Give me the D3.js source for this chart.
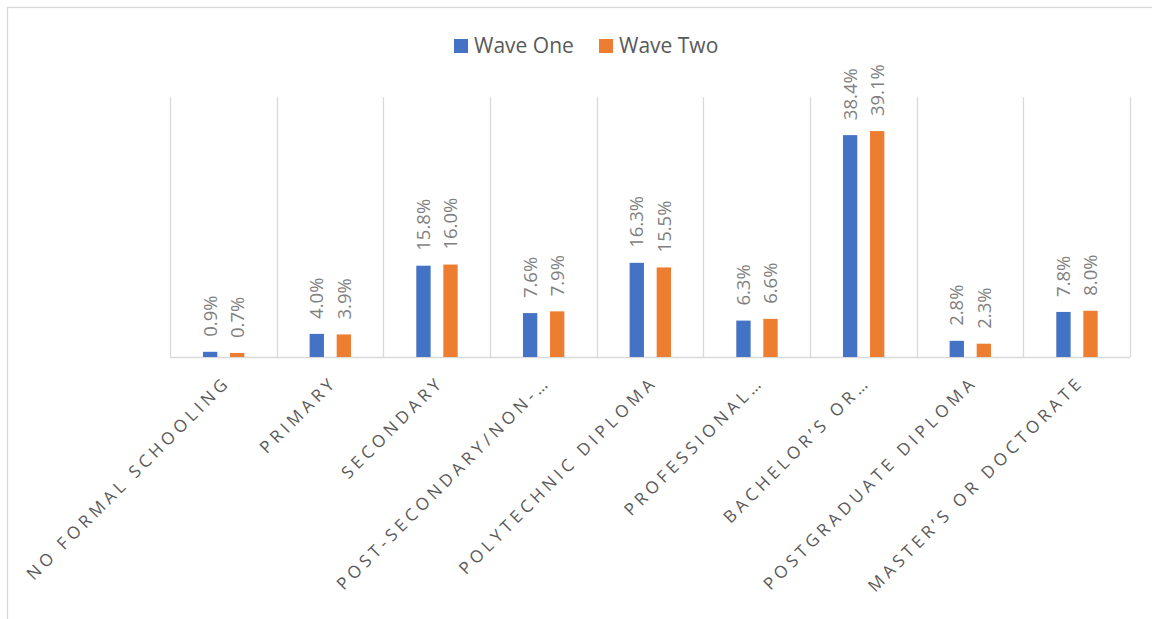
<!DOCTYPE html>
<html><head><meta charset="utf-8">
<script src="https://cdn.jsdelivr.net/npm/d3@7"></script>
<style>html,body{margin:0;padding:0;background:#fff;}svg{display:block;}</style>
</head><body>
<script>
const categories = ["NO FORMAL SCHOOLING","PRIMARY","SECONDARY","POST-SECONDARY/NON-…","POLYTECHNIC DIPLOMA","PROFESSIONAL…","BACHELOR’S OR…","POSTGRADUATE DIPLOMA","MASTER’S OR DOCTORATE"];
const seriesNames = ["Wave One","Wave Two"];
const waveOne = [0.9,4.0,15.8,7.6,16.3,6.3,38.4,2.8,7.8];
const waveTwo = [0.7,3.9,16.0,7.9,15.5,6.6,39.1,2.3,8.0];
const colors = ["#4472C4","#ED7D31"];

const W = 1152, H = 619;
const svg = d3.select("body").append("svg").attr("width", W).attr("height", H);
svg.append("rect").attr("x",7.5).attr("y",7.5).attr("width",1300).attr("height",800)
  .attr("fill","#fff").attr("stroke","#d9d9d9").attr("stroke-width",1.3);

const plot = {left:170, right:1130, top:97, bottom:357};
const x0 = d3.scaleBand().domain(categories).range([plot.left, plot.right]).padding(0);
const bw = x0.bandwidth();
const x1 = d3.scaleBand().domain(seriesNames).range([bw*0.309, bw*0.697]).paddingInner(0.47).paddingOuter(0);
const y = d3.scaleLinear().domain([0,45]).range([plot.bottom, plot.top]);

// gridlines
const bounds = categories.map(c => x0(c)).concat([plot.right]);
svg.append("g").selectAll("line").data(bounds).join("line")
  .attr("x1", d=>Math.round(d)+0.5).attr("x2", d=>Math.round(d)+0.5)
  .attr("y1", plot.top).attr("y2", plot.bottom)
  .attr("stroke","#d9d9d9").attr("stroke-width",1.3);
svg.append("line").attr("x1",plot.left).attr("x2",plot.right)
  .attr("y1",plot.bottom+0.5).attr("y2",plot.bottom+0.5)
  .attr("stroke","#d9d9d9").attr("stroke-width",1.3);

const data = [waveOne, waveTwo];
const g = svg.append("g");
seriesNames.forEach((s, si) => {
  const vals = data[si];
  g.append("g").selectAll("rect").data(categories).join("rect")
    .attr("x", (c)=>x0(c)+x1(s))
    .attr("width", x1.bandwidth())
    .attr("y", (c,i)=>y(vals[i]))
    .attr("height", (c,i)=>plot.bottom - y(vals[i]))
    .attr("fill", colors[si]);
  g.append("g").selectAll("text").data(categories).join("text")
    .attr("transform", (c,i)=>`translate(${x0(c)+x1(s)+x1.bandwidth()/2},${y(vals[i])-15}) rotate(-90)`)
    .attr("text-anchor","start")
    .attr("dy","0.36em")
    .attr("font-family","'Open Sans', sans-serif")
    .attr("font-size","18.5px")
    .attr("fill","#7f7f7f")
    .text((c,i)=>vals[i].toFixed(1)+"%");
});

// category labels
svg.append("g").selectAll("text").data(categories).join("text")
  .attr("transform", c=>`translate(${x0(c)+bw/2+4},${plot.bottom+22}) rotate(-45)`)
  .attr("text-anchor","end")
  .attr("dy","0.35em")
  .attr("font-family","'Open Sans', sans-serif")
  .attr("font-size","17px")
  .attr("letter-spacing","4.2px")
  .attr("fill","#595959")
  .text(c=>c);

// legend
const leg = svg.append("g");
const legX = [454, 599];
seriesNames.forEach((s, i) => {
  leg.append("rect").attr("x", legX[i]).attr("y", 39).attr("width",14).attr("height",14).attr("fill", colors[i]);
  leg.append("text").attr("x", legX[i]+20).attr("y", 52.5)
    .attr("font-family","'Open Sans', sans-serif").attr("font-size","21px")
    .attr("fill","#595959").text(s);
});
</script>
</body></html>
